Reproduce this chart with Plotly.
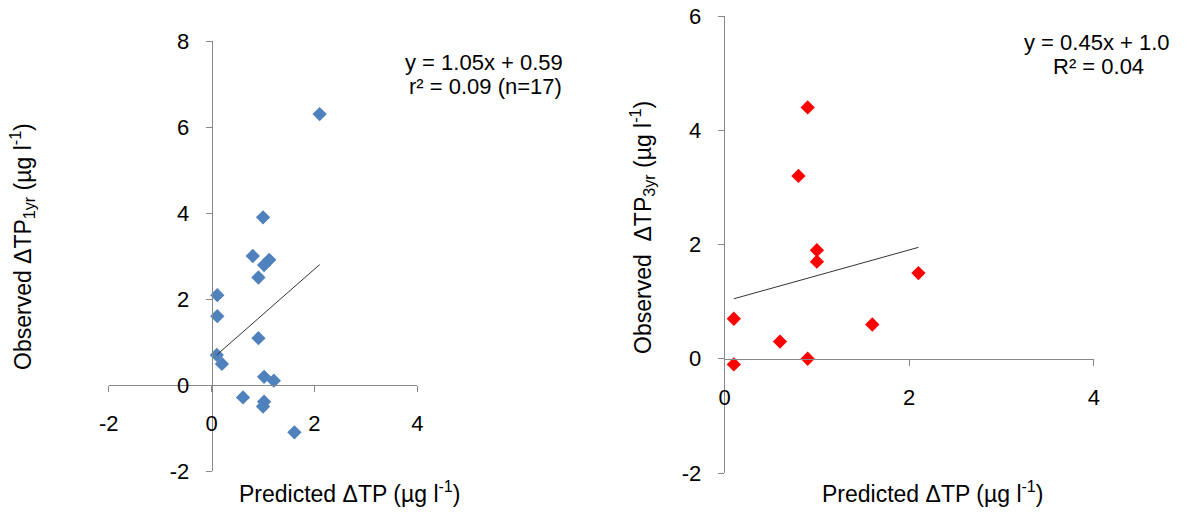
import plotly.graph_objects as go

# ---- data ----
pred_1yr = [2.1, 1.0, 0.8, 1.12, 1.02, 0.91, 0.11, 0.11, 0.91, 0.10, 0.2, 1.02, 1.21, 0.61, 1.02, 1.0, 1.61]
obs_1yr = [6.3, 3.9, 3.0, 2.91, 2.79, 2.5, 2.09, 1.6, 1.09, 0.7, 0.49, 0.19, 0.1, -0.29, -0.39, -0.5, -1.1]
trend_1yr_x = [0.1, 2.1]
trend_1yr_y = [0.70, 2.80]

pred_3yr = [0.9, 0.8, 1.0, 1.0, 2.1, 0.1, 1.6, 0.6, 0.9, 0.1]
obs_3yr = [4.4, 3.2, 1.9, 1.7, 1.5, 0.7, 0.6, 0.3, 0.0, -0.1]
trend_3yr_x = [0.1, 2.1]
trend_3yr_y = [1.05, 1.95]

x_ticks_left = [-2, 0, 2, 4]
y_ticks_left = [-2, 0, 2, 4, 6, 8]
x_ticks_right = [0, 2, 4]
y_ticks_right = [-2, 0, 2, 4, 6]

FONT = "Liberation Sans, Arial, sans-serif"
AX = "#888888"
W, H = 1189, 513


def labels(vals):
    return [str(v) for v in vals]  # plain hyphen minus, as in the reference


fig = go.Figure()
fig.add_trace(go.Scatter(x=pred_1yr, y=obs_1yr, mode="markers", xaxis="x", yaxis="y",
                         marker=dict(symbol="diamond", size=11, color="#4F81BD"), showlegend=False))
fig.add_trace(go.Scatter(x=trend_1yr_x, y=trend_1yr_y, mode="lines", xaxis="x", yaxis="y",
                         line=dict(color="#333333", width=1), showlegend=False))
fig.add_trace(go.Scatter(x=pred_3yr, y=obs_3yr, mode="markers", xaxis="x2", yaxis="y2",
                         marker=dict(symbol="diamond", size=11, color="#FF0000"), showlegend=False))
fig.add_trace(go.Scatter(x=trend_3yr_x, y=trend_3yr_y, mode="lines", xaxis="x2", yaxis="y2",
                         line=dict(color="#333333", width=1), showlegend=False))

common = dict(showgrid=False, zeroline=False, showline=True, linecolor=AX, linewidth=1,
              ticks="outside", ticklen=6, tickcolor=AX, tickwidth=1,
              tickfont=dict(family=FONT, size=22, color="black"), automargin=False, fixedrange=True)

fig.update_layout(
    width=W, height=H,
    margin=dict(l=0, r=0, t=0, b=0),
    paper_bgcolor="white", plot_bgcolor="white",
    xaxis=dict(domain=[108.8 / W, 417.3 / W], range=[-2, 4],
               tickvals=x_ticks_left, ticktext=labels(x_ticks_left),
               anchor="free", position=1 - 385 / H, ticklabelstandoff=13, **common),
    yaxis=dict(domain=[1 - 471 / H, 1 - 41 / H], range=[-2, 8],
               tickvals=y_ticks_left, ticktext=labels(y_ticks_left),
               anchor="free", position=211.6 / W, ticklabelstandoff=12, **common),
    xaxis2=dict(domain=[724.6 / W, 1093.8 / W], range=[0, 4],
                tickvals=x_ticks_right, ticktext=labels(x_ticks_right),
                anchor="free", position=1 - 358.8 / H, ticklabelstandoff=13, **common),
    yaxis2=dict(domain=[1 - 473 / H, 1 - 16 / H], range=[-2, 6],
                tickvals=y_ticks_right, ticktext=labels(y_ticks_right),
                anchor="x2", ticklabelstandoff=12, **common),
)


def ann(text, x, y, size=22, angle=0):
    fig.add_annotation(text=text, xref="paper", yref="paper", x=x / W, y=1 - y / H,
                       xanchor="center", yanchor="middle", showarrow=False, textangle=angle,
                       font=dict(family=FONT, size=size, color="black"))


ann("y = 1.05x + 0.59", 484, 62)
ann("r² = 0.09 (n=17)", 485, 87)
ann("y = 0.45x + 1.0", 1097, 43)
ann("R² = 0.04", 1098, 67)

ann("Predicted ΔTP (µg l<sup>-1</sup>)", 349, 492, size=23)
ann("Predicted ΔTP (µg l<sup>-1</sup>)", 932, 492, size=23)
ann("Observed ΔTP<sub>1yr</sub> (µg l<sup>-1</sup>)", 22, 247, size=23, angle=-90)
ann("Observed  ΔTP<sub>3yr</sub> (µg l<sup>-1</sup>)", 642, 228, size=23, angle=-90)

fig.write_html("out.html")
